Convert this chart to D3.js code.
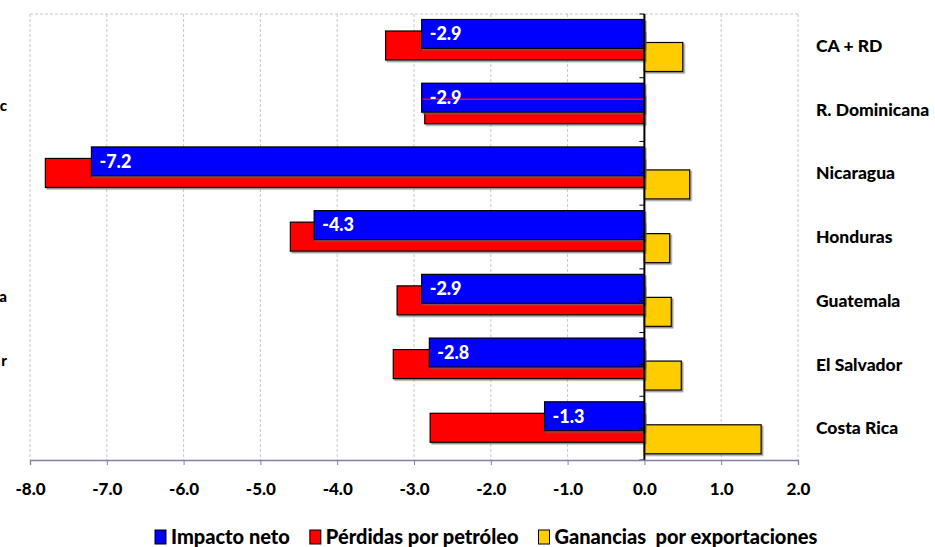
<!DOCTYPE html>
<html>
<head>
<meta charset="utf-8">
<script src="https://cdn.jsdelivr.net/npm/d3@7"></script>
<style>
  body { margin: 0; background: #fff; }
  svg text { font-family: Lato, "Open Sans", sans-serif; font-weight: 900; }
</style>
</head>
<body>
<div class="box"></div>
<script>
// donnees
const paises = ['CA + RD', 'R. Dominicana', 'Nicaragua', 'Honduras', 'Guatemala', 'El Salvador', 'Costa Rica']
const impactoNeto = [-2.9, -2.9, -7.2, -4.3, -2.9, -2.8, -1.3]
const perdidasPetroleo = [-3.37, -2.86, -7.8, -4.61, -3.22, -3.27, -2.79]
const gananciasExport = [0.5, 0, 0.59, 0.33, 0.35, 0.48, 1.52]
const series = ['Impacto neto', 'Pérdidas por petróleo', 'Ganancias  por exportaciones']
const colores = ['#0000ff', '#ff0000', '#ffcc00']
const ticksX = [-8, -7, -6, -5, -4, -3, -2, -1, 0, 1, 2]
// lettres coupees a gauche (restes d'un autre graphique)
const restes = [['R. Dominicana', 'c'], ['Guatemala', 'a'], ['El Salvador', 'r']]

const width = 935, height = 547
const svg = d3.select('.box')
  .append('svg')
  .attr('width', width)
  .attr('height', height)

const defs = svg.append('defs')
defs.append('filter').attr('id', 'ombre')
  .attr('x', '-5%').attr('y', '-10%').attr('width', '115%').attr('height', '130%')
  .append('feDropShadow')
  .attr('dx', 1.5).attr('dy', 1.5).attr('stdDeviation', 0.4)
  .attr('flood-color', '#666').attr('flood-opacity', 0.7)

const x = d3.scaleLinear().domain([-8, 2]).range([30, 798])
const y = d3.scaleBand().domain(paises).range([14, 460])
const bh = 29
const ySerie = d3.scalePoint().domain(series).range([5.5, 28.5])

// grille
svg.append('g').selectAll('line')
  .data(ticksX.filter(d => d !== 0))
  .enter().append('line')
  .attr('x1', d => x(d)).attr('x2', d => x(d))
  .attr('y1', 14).attr('y2', 460)
  .attr('stroke', '#c8c8c8').attr('stroke-dasharray', '3,2')
svg.append('line')
  .attr('x1', x(-8)).attr('x2', x(2)).attr('y1', 14).attr('y2', 14)
  .attr('stroke', '#c8c8c8').attr('stroke-dasharray', '3,2')

// barres
const lignes = paises.map((p, i) => ({ pais: p, vals: [impactoNeto[i], perdidasPetroleo[i], gananciasExport[i]] }))
const ordre = [2, 1, 0]
ordre.forEach(s => {
  svg.append('g').selectAll('rect')
    .data(lignes.filter(d => d.vals[s] !== 0))
    .enter().append('rect')
    .attr('x', d => x(Math.min(0, d.vals[s])))
    .attr('width', d => Math.abs(x(d.vals[s]) - x(0)))
    .attr('y', d => y(d.pais) + ySerie(series[s]))
    .attr('height', bh)
    .attr('fill', colores[s])
    .attr('stroke', '#000').attr('stroke-width', 1.2)
    .attr('filter', 'url(#ombre)')
})

// trait rouge dans la barre R. Dominicana
svg.append('line')
  .attr('x1', x(impactoNeto[1]) + 1).attr('x2', x(0))
  .attr('y1', y(paises[1]) + ySerie(series[0]) + bh / 2 + 1.5)
  .attr('y2', y(paises[1]) + ySerie(series[0]) + bh / 2 + 1.5)
  .attr('stroke', '#ff0000').attr('stroke-width', 1.5)

// etiquettes sur les barres bleues
svg.append('g').selectAll('text')
  .data(lignes)
  .enter().append('text')
  .attr('x', d => x(d.vals[0]) + 8)
  .attr('y', d => y(d.pais) + ySerie(series[0]) + bh / 2)
  .attr('dy', '0.35em')
  .attr('fill', '#fff')
  .style('font-size', '18px')
  .text(d => d3.format('.1f')(d.vals[0]).replace('−', '-'))

// axe zero
svg.append('line')
  .attr('x1', x(0)).attr('x2', x(0)).attr('y1', 14).attr('y2', 460)
  .attr('stroke', '#000').attr('stroke-width', 2)
const demi = []
paises.forEach(p => { demi.push(y(p)); demi.push(y(p) + y.bandwidth() / 2) })
demi.push(460)
svg.append('g').selectAll('line')
  .data(demi)
  .enter().append('line')
  .attr('x1', x(0) - 5).attr('x2', x(0)).attr('y1', d => d).attr('y2', d => d)
  .attr('stroke', '#000')

// axe x
const axeX = d3.axisBottom(x)
  .tickValues(ticksX)
  .tickSize(5)
  .tickPadding(18)
  .tickFormat(d => d3.format('.1f')(d).replace('−', '-'))
const groupX = svg.append('g')
  .attr('transform', 'translate(0, 460)')
  .call(axeX)
groupX.select('.domain').attr('stroke', '#8080a8').attr('stroke-width', 1.3)
groupX.selectAll('.tick line').attr('stroke', '#8080a8')
groupX.selectAll('text')
  .style('font-size', '17px').attr('fill', '#000')
  .attr('font-family', null)

// noms des pays
svg.append('g').selectAll('text')
  .data(paises)
  .enter().append('text')
  .attr('x', 816)
  .attr('y', d => y(d) + y.bandwidth() / 2)
  .attr('dy', '0.35em')
  .style('font-size', '17.5px')
  .text(d => d)

// restes a gauche
svg.append('g').selectAll('text')
  .data(restes)
  .enter().append('text')
  .attr('x', 7)
  .attr('y', d => y(d[0]) + y.bandwidth() / 2 - 4)
  .attr('dy', '0.35em')
  .attr('text-anchor', 'end')
  .style('font-size', '15px')
  .text(d => d[1])

// legende
const leg = svg.append('g').attr('transform', 'translate(155, 537)')
let pos = 0
series.forEach((s, i) => {
  leg.append('rect')
    .attr('x', pos).attr('y', -7).attr('width', 11).attr('height', 14)
    .attr('fill', colores[i]).attr('stroke', '#000')
  const t = leg.append('text')
    .attr('x', pos + 16).attr('y', 0).attr('dy', '0.35em')
    .style('font-size', '20px')
    .attr('xml:space', 'preserve')
    .text(s)
  pos += 16 + t.node().getComputedTextLength() + 20
})
</script>
</body>
</html>
